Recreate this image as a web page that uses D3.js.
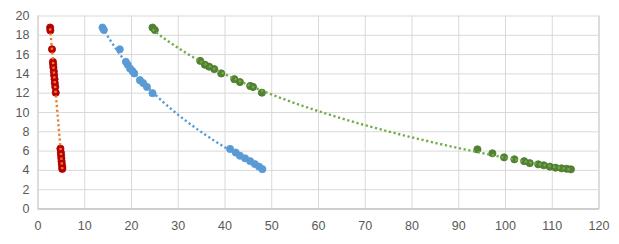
<!DOCTYPE html>
<html>
<head>
<meta charset="utf-8">
<script src="https://cdn.jsdelivr.net/npm/d3@7"></script>
<style>
  body { margin: 0; background: #fff; }
  .tick text { font-family: "Liberation Sans", Arial, sans-serif; font-size: 12.5px; fill: #595959; }
</style>
</head>
<body>
<svg width="619" height="244"></svg>
<script>
const svg = d3.select('svg');
const width = +svg.attr('width');
const height = +svg.attr('height');

// red series (orange trendline)
const redX = [2.7, 2.75, 3.1, 3.3, 3.35, 3.4, 3.5, 3.55, 3.65, 3.7, 3.8, 3.9,
              4.9, 5.0, 5.05, 5.1, 5.15, 5.2, 5.3, 5.3];
const redY = [18.75, 18.45, 16.5, 15.2, 14.9, 14.6, 14.2, 13.8, 13.4, 13.0, 12.6, 12.0,
              6.2, 5.8, 5.5, 5.2, 4.9, 4.6, 4.3, 4.1];

// blue series
const blueX = [13.9, 14.2, 17.6, 18.9, 19.3, 19.8, 20.3, 20.7, 21.9, 22.6, 23.4, 24.6,
               41.2, 42.4, 43.3, 44.4, 45.5, 46.5, 47.4, 48.1];
const blueY = [18.75, 18.5, 16.5, 15.2, 14.9, 14.5, 14.25, 14.0, 13.3, 13.0, 12.6, 11.95,
               6.17, 5.8, 5.47, 5.2, 4.9, 4.6, 4.33, 4.08];

// green series
const greenX = [24.6, 25.1, 34.8, 35.8, 36.7, 37.8, 39.3, 42.1, 43.3, 45.5, 46.1, 48.0,
                94.1, 97.3, 99.8, 102.0, 104.1, 105.3, 107.1, 108.3, 109.6, 110.8, 112.1, 113.2, 114.1];
const greenY = [18.75, 18.5, 15.3, 14.9, 14.7, 14.45, 14.0, 13.4, 13.1, 12.7, 12.6, 12.0,
                6.13, 5.72, 5.3, 5.1, 4.9, 4.7, 4.58, 4.48, 4.33, 4.23, 4.16, 4.12, 4.06];

const xTicks = d3.range(0, 121, 10);
const yTicks = d3.range(0, 21, 2);

const series = [
  {xs: redX, ys: redY, fill: '#C00000', stroke: '#A50000', trend: '#ED7D31', fit: 'linear'},
  {xs: blueX, ys: blueY, fill: '#5B9BD5', stroke: '#5B9BD5', trend: '#5B9BD5', fit: 'log'},
  {xs: greenX, ys: greenY, fill: '#548235', stroke: '#4A7A2C', trend: '#70AD47', fit: 'log'}
];

const margin = {top: 15.5, right: 20.5, bottom: 35.5, left: 37.5};
const innerWidth = width - margin.left - margin.right;
const innerHeight = height - margin.top - margin.bottom;

const xScale = d3.scaleLinear().domain([0, 120]).range([0, innerWidth]);
const yScale = d3.scaleLinear().domain([0, 20]).range([innerHeight, 0]);

const g = svg.append('g')
  .attr('transform', `translate(${margin.left}, ${margin.top})`);

// vertical gridlines + x labels
const xAxisG = g.append('g')
  .attr('transform', `translate(0, ${innerHeight})`)
  .call(d3.axisBottom(xScale).tickValues(xTicks).tickSize(-innerHeight).tickPadding(13));
xAxisG.select('.domain').attr('stroke', '#BFBFBF');
xAxisG.selectAll('.tick line').attr('stroke', '#D9D9D9');

// horizontal gridlines + y labels
const yAxisG = g.append('g')
  .call(d3.axisLeft(yScale).tickValues(yTicks).tickSize(-innerWidth).tickPadding(8));
yAxisG.select('.domain').remove();
yAxisG.selectAll('.tick line').attr('stroke', '#D9D9D9');
yAxisG.selectAll('.tick').filter(d => d === 0).select('line').attr('stroke', '#BFBFBF');

// least squares fit, linear or logarithmic in x
const fitLine = (xs, ys, type) => {
  const tx = type === 'log' ? xs.map(Math.log) : xs;
  const n = tx.length;
  const mx = d3.mean(tx), my = d3.mean(ys);
  let sxy = 0, sxx = 0;
  for (let i = 0; i < n; i++) {
    sxy += (tx[i] - mx) * (ys[i] - my);
    sxx += (tx[i] - mx) * (tx[i] - mx);
  }
  const b = sxy / sxx, a = my - b * mx;
  return x => a + b * (type === 'log' ? Math.log(x) : x);
};

const line = d3.line()
  .x(d => xScale(d[0]))
  .y(d => yScale(d[1]));

series.forEach(s => {
  const pts = s.xs.map((x, i) => [x, s.ys[i]]);
  g.append('g').selectAll('circle').data(pts)
    .enter().append('circle')
      .attr('cx', d => xScale(d[0]))
      .attr('cy', d => yScale(d[1]))
      .attr('r', 3.6)
      .attr('fill', s.fill)
      .attr('stroke', s.stroke)
      .attr('stroke-width', 0.8);

  const f = fitLine(s.xs, s.ys, s.fit);
  const [x0, x1] = d3.extent(s.xs);
  const trend = d3.range(0, 101).map(i => {
    const x = x0 + (x1 - x0) * i / 100;
    return [x, f(x)];
  });
  g.append('path')
    .datum(trend)
    .attr('d', line)
    .attr('fill', 'none')
    .attr('stroke', s.trend)
    .attr('stroke-width', 2.4)
    .attr('stroke-dasharray', '2.2 2.6');
});
</script>
</body>
</html>
